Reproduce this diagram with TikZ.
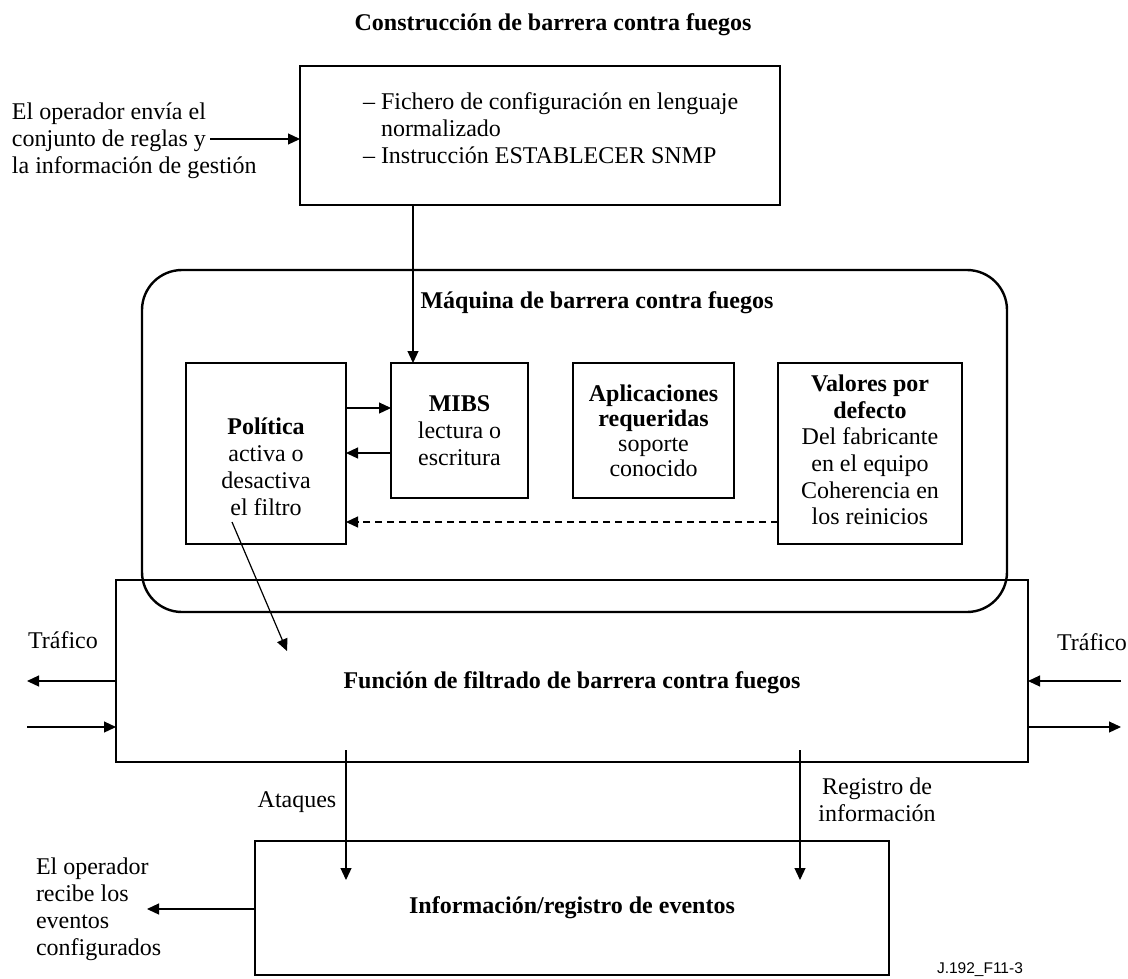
\documentclass[tikz,border=0pt]{standalone}
\usepackage{fontspec}
\setmainfont{Liberation Serif}
\setsansfont{Liberation Sans}
\usetikzlibrary{arrows.meta}

\begin{document}
\begin{tikzpicture}[x=1pt,y=-1pt,
  every node/.style={inner sep=0pt, outer sep=0pt},
  frame/.style={draw, line width=2.4pt, rectangle},
  txt/.style={font=\fontsize{24}{27}\selectfont, align=center},
  ltxt/.style={font=\fontsize{24}{27}\selectfont, align=left},
  conn/.style={line width=1.2pt, -{Triangle[length=12pt,width=11pt]}},
  dashconn/.style={conn, dash pattern=on 7pt off 5pt}
]
\useasboundingbox (0,0) rectangle (1128,978);

% title of the upper part
\node[txt, font=\fontsize{24}{27}\selectfont\bfseries] (title) at (553,25) {Construcción de barrera contra fuegos};

% configuration box
\node[frame, minimum width=480pt, minimum height=139pt] (top) at (540,135.5) {};
\node[ltxt, anchor=north west] (toptext) at (363,93)
  {– Fichero de configuración en lenguaje\\\phantom{– }normalizado\\– Instrucción ESTABLECER SNMP};

\node[ltxt, anchor=west] (opsend) at (12,141)
  {El operador envía el\\conjunto de reglas y\\la información de gestión};
\coordinate (opsendend) at (210,139);

% firewall machine
\draw[line width=2.4pt, rounded corners=40pt] (142,270) rectangle (1007,612);
\node[txt, font=\fontsize{24}{27}\selectfont\bfseries] (machine) at (597,303) {Máquina de barrera contra fuegos};

\node[frame, minimum width=160pt, minimum height=181pt] (pol) at (266,453.5) {};
\node[txt] (poltext) at (266,467) {\textbf{Política}\\activa o\\desactiva\\el filtro};

\node[frame, minimum width=137pt, minimum height=135pt, txt] (mibs) at (459.5,430.5)
  {\textbf{MIBS}\\lectura o\\escritura};

\node[frame, minimum width=161pt, minimum height=135pt, txt, font=\fontsize{24}{25}\selectfont] (apps) at (653.5,430.5)
  {\textbf{Aplicaciones}\\\textbf{requeridas}\\soporte\\conocido};

\node[frame, minimum width=184pt, minimum height=181pt] (vals) at (870,453.5) {};
\node[txt, font=\fontsize{24}{26.7}\selectfont] (valtext) at (870,450)
  {\textbf{Valores por}\\\textbf{defecto}\\Del fabricante\\en el equipo\\Coherencia en\\los reinicios};

% filtering function
\node[frame, minimum width=912pt, minimum height=182pt] (filter) at (572,671) {};
\node[txt, font=\fontsize{24}{27}\selectfont\bfseries] (filtertext) at (572,683) {Función de filtrado de barrera contra fuegos};

\node[txt] (trafl) at (63,640) {Tráfico};
\node[txt] (trafr) at (1092,642) {Tráfico};
\coordinate (tlo) at (27,681);
\coordinate (tli) at (27,727);
\coordinate (tri) at (1121,681);
\coordinate (tro) at (1121,727);

% event log
\node[frame, minimum width=634pt, minimum height=134pt, txt, font=\fontsize{24}{27}\selectfont\bfseries] (info) at (572,908)
  {Información/registro de eventos};

\node[txt] (attacks) at (297,802) {Ataques};
\node[txt] (reglabel) at (877,800) {Registro de\\información};
\node[ltxt, anchor=west] (oprecv) at (36,909) {El operador\\recibe los\\eventos\\configurados};
\coordinate (oprecvend) at (147,909);

\node[font=\sffamily\fontsize{15.5}{18}\selectfont, anchor=west] (figid) at (937,970) {J.192\_F11-3};

% connectors
\draw[conn] (opsendend) -- (top.west |- opsendend);
\coordinate (downx) at (413,0);
\draw[conn] (downx |- top.south) -- (downx |- mibs.north);
\draw[conn] (pol.east |- 0,408) -- (mibs.west |- 0,408);
\draw[conn] (mibs.west |- 0,453) -- (pol.east |- 0,453);
\draw[dashconn] (vals.west |- 0,522) -- (pol.east |- 0,522);

\coordinate (polout) at (232,522);
\coordinate (filterin) at (287,651);
\draw[conn] (polout) -- (filterin);

\draw[conn] (filter.west |- tlo) -- (tlo);
\draw[conn] (tli) -- (filter.west |- tli);
\draw[conn] (tri) -- (filter.east |- tri);
\draw[conn] (filter.east |- tro) -- (tro);

\coordinate (atkstart) at (346,750);
\coordinate (atkend) at (346,880);
\coordinate (regstart) at (800,750);
\coordinate (regend) at (800,880);
\draw[conn] (atkstart) -- (atkend);
\draw[conn] (regstart) -- (regend);

\draw[conn] (info.west |- oprecvend) -- (oprecvend);
\end{tikzpicture}
\end{document}
